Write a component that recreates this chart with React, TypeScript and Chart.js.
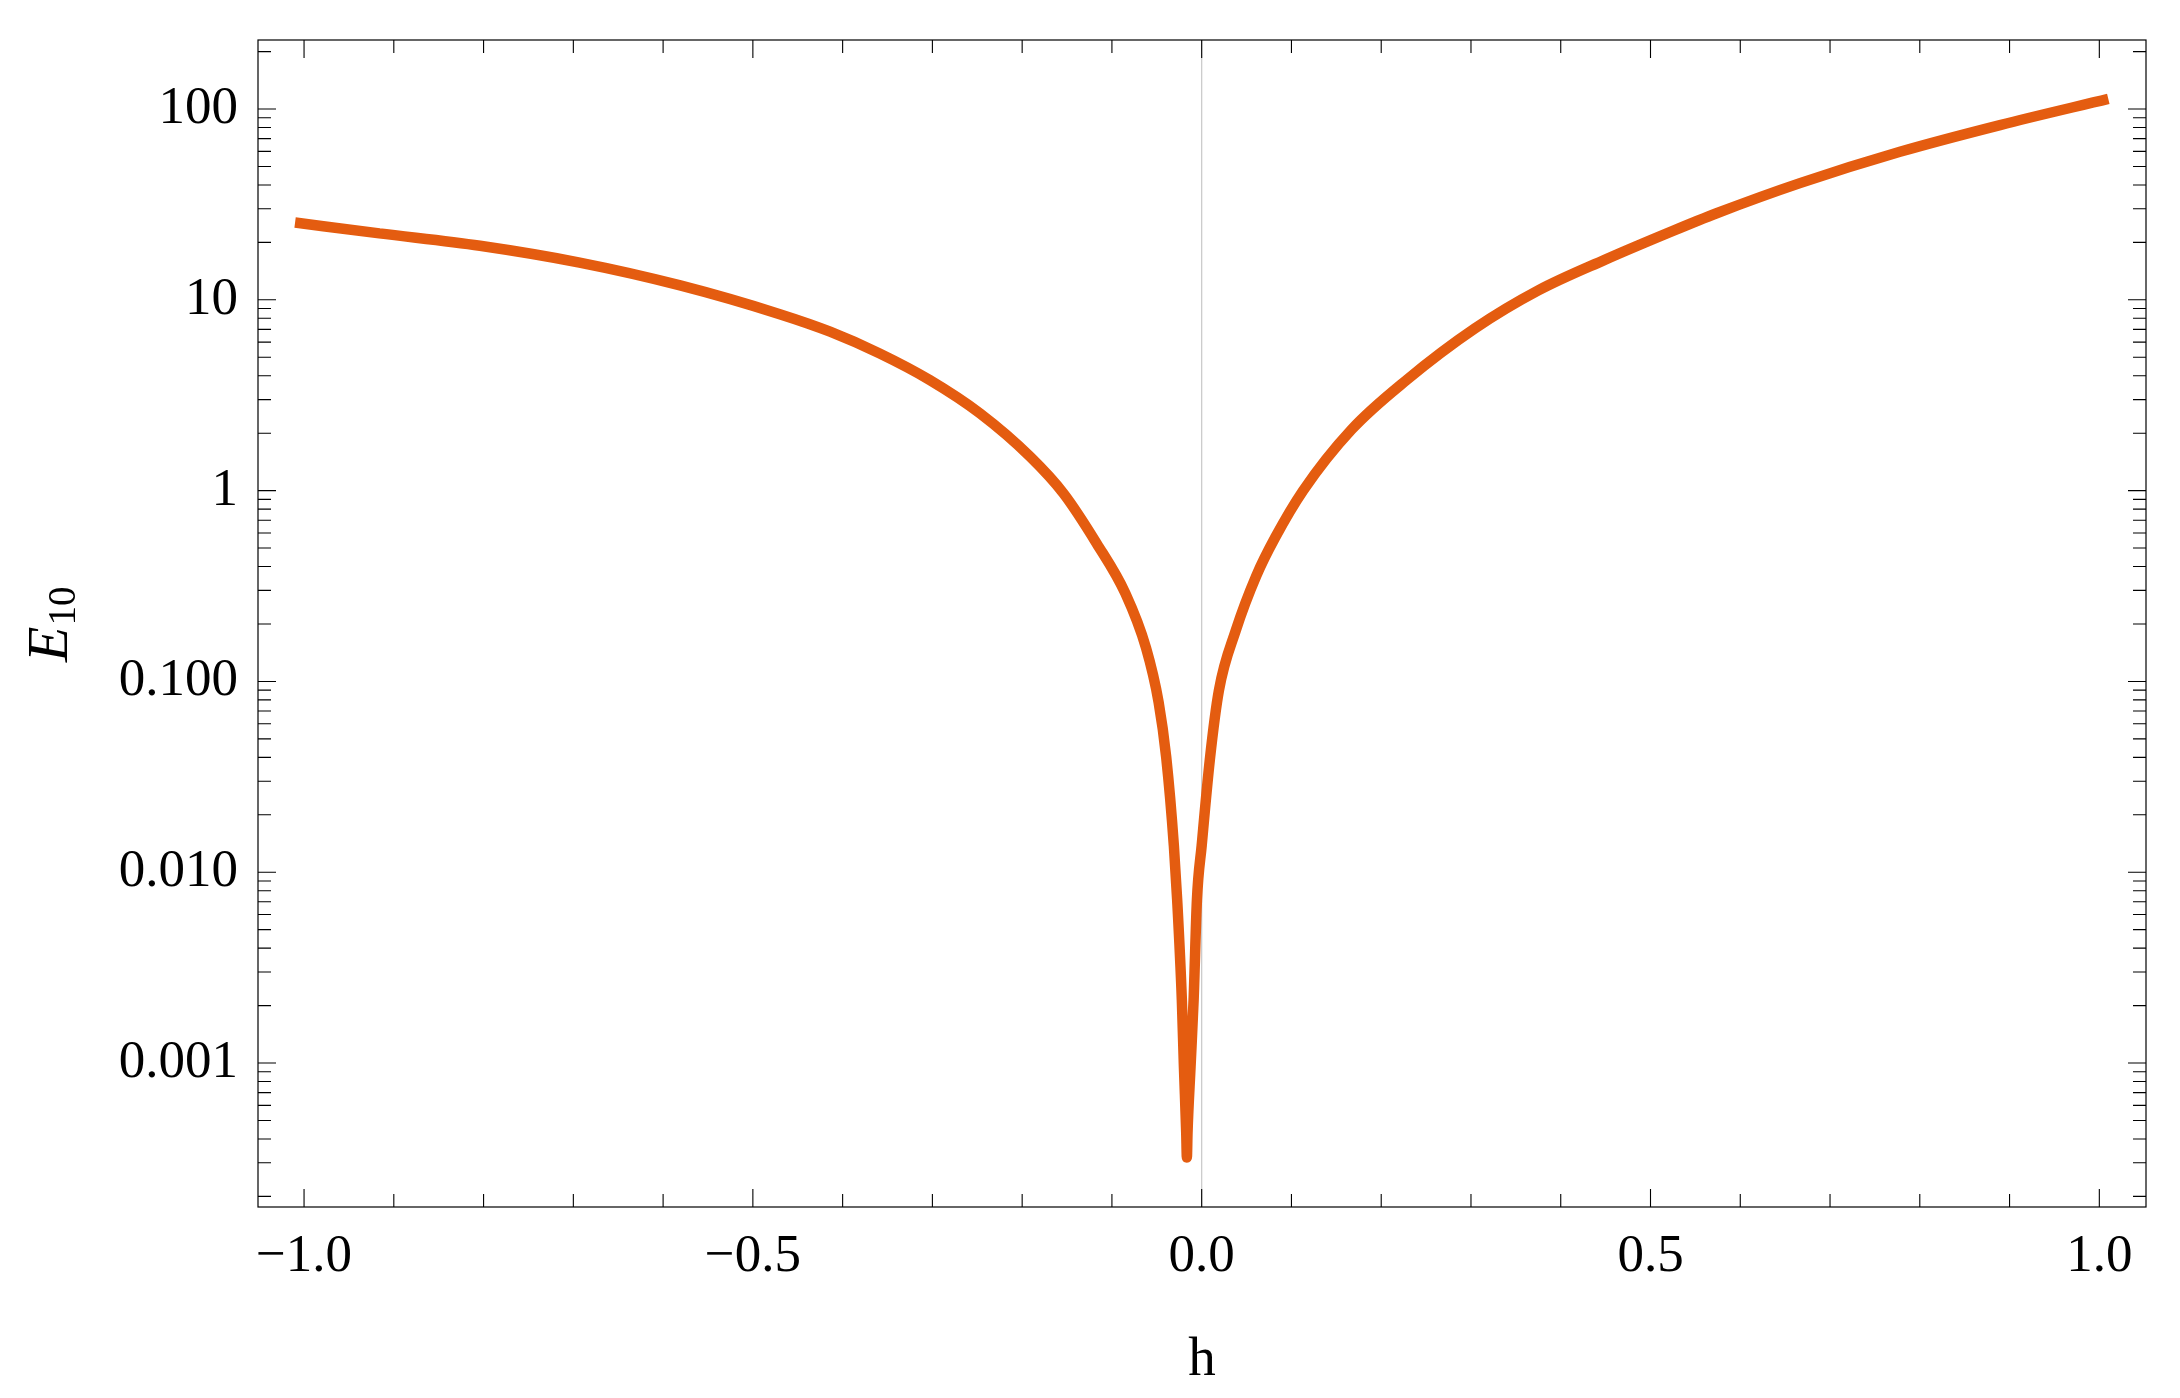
import React, { useEffect, useRef } from "react";
import { Chart, registerables } from "chart.js";

Chart.register(...registerables);

// ---- data ----
const hValues = [
  -1.01, -0.916, -0.804, -0.693, -0.581, -0.47, -0.414, -0.359, -0.303,
  -0.247, -0.191, -0.154, -0.117, -0.085, -0.062, -0.048, -0.0395, -0.031,
  -0.0273, -0.0221, -0.0198, -0.0172, -0.0165, -0.0158, -0.0124, -0.009, -0.0053,
  0.0, 0.0091, 0.0192, 0.038, 0.061, 0.082, 0.113, 0.167, 0.2283, 0.3044, 0.375,
  0.449, 0.525, 0.5737, 0.6665, 0.7779, 0.8894, 1.01,
];
const eValues = [
  25.4, 22.3, 19.2, 15.67, 11.9, 8.41, 6.81, 5.24, 3.8,
  2.54, 1.505, 0.968, 0.529, 0.2895, 0.15, 0.078, 0.04, 0.0138,
  0.00715, 0.00214, 0.00096, 0.00043, 0.00032, 0.00043, 0.00096, 0.00214, 0.00715,
  0.0138, 0.039, 0.0897, 0.185, 0.359, 0.569, 1.0, 2.09, 3.8, 7.08, 11.2,
  16.2, 22.98, 28.43, 40.9, 59.7, 82.4, 113,
];

const xTickValues = [-1, -0.5, 0, 0.5, 1];
const xTickLabels = ["\u22121.0", "\u22120.5", "0.0", "0.5", "1.0"];
const xMinorTicks = [
  -0.9, -0.8, -0.7, -0.6, -0.4, -0.3, -0.2, -0.1,
  0.1, 0.2, 0.3, 0.4, 0.6, 0.7, 0.8, 0.9,
];
const yTickValues = [0.001, 0.01, 0.1, 1, 10, 100];
const yTickLabels = ["0.001", "0.010", "0.100", "1", "10", "100"];
const yMinorMultipliers = [2, 3, 4, 5, 6, 7, 8, 9];
const yMinorDecades = [0.0001, 0.001, 0.01, 0.1, 1, 10, 100];

const X_MIN = -1.0513;
const X_MAX = 1.052;
const Y_MIN = 1.76e-4;
const Y_MAX = 230;

const LINE_COLOR = "rgb(228, 92, 16)";
const FONT = '"Liberation Serif", "Times New Roman", serif';

const framePlugin = {
  id: "mmaFrame",
  beforeDatasetsDraw(chart: any) {
    const { ctx, chartArea: a, scales } = chart;
    const x = scales.x;
    ctx.save();
    ctx.strokeStyle = "#c8c8c8";
    ctx.lineWidth = 1.2;
    const px = x.getPixelForValue(0);
    ctx.beginPath();
    ctx.moveTo(px, a.top);
    ctx.lineTo(px, a.bottom);
    ctx.stroke();
    ctx.restore();
  },
  afterDatasetsDraw(chart: any) {
    const { ctx, chartArea: a, scales } = chart;
    const x = scales.x;
    const y = scales.y;
    ctx.save();
    ctx.strokeStyle = "#000";
    ctx.lineWidth = 1.2;
    ctx.strokeRect(a.left, a.top, a.right - a.left, a.bottom - a.top);

    const MAJ = 18;
    const MIN = 13;
    ctx.lineWidth = 1.1;
    ctx.beginPath();
    const xTick = (v: number, len: number) => {
      const p = x.getPixelForValue(v);
      ctx.moveTo(p, a.bottom);
      ctx.lineTo(p, a.bottom - len);
      ctx.moveTo(p, a.top);
      ctx.lineTo(p, a.top + len);
    };
    xTickValues.forEach((v) => xTick(v, MAJ));
    xMinorTicks.forEach((v) => xTick(v, MIN));

    const yTick = (v: number, len: number) => {
      if (v < Y_MIN || v > Y_MAX) return;
      const p = y.getPixelForValue(v);
      ctx.moveTo(a.left, p);
      ctx.lineTo(a.left + len, p);
      ctx.moveTo(a.right, p);
      ctx.lineTo(a.right - len, p);
    };
    yTickValues.forEach((v) => yTick(v, MAJ));
    yMinorDecades.forEach((d) =>
      yMinorMultipliers.forEach((m) => yTick(m * d, MIN))
    );
    ctx.stroke();
    ctx.restore();
  },
  afterDraw(chart: any) {
    const { ctx, chartArea: a } = chart;
    ctx.save();
    ctx.fillStyle = "#000";
    // x-axis title
    ctx.font = `55px ${FONT}`;
    ctx.textAlign = "center";
    ctx.textBaseline = "alphabetic";
    ctx.fillText("h", (a.left + a.right) / 2, 1375);

    // y-axis title: italic E with upright subscript 10
    ctx.translate(67, 662);
    ctx.rotate(-Math.PI / 2);
    ctx.textAlign = "left";
    ctx.font = `italic 58px ${FONT}`;
    ctx.fillText("E", 0, 0);
    const w = ctx.measureText("E").width;
    ctx.font = `39px ${FONT}`;
    ctx.fillText("10", w + 1, 8);
    ctx.restore();
  },
};

export default function App() {
  const canvasRef = useRef<HTMLCanvasElement | null>(null);

  useEffect(() => {
    document.body.style.margin = "0";
    const canvas = canvasRef.current;
    if (!canvas) return;
    const points = hValues.map((h, i) => ({ x: h, y: eValues[i] }));

    const chart = new Chart(canvas, {
      type: "line",
      data: {
        datasets: [
          {
            data: points,
            borderColor: LINE_COLOR,
            borderWidth: 10.5,
            pointRadius: 0,
            cubicInterpolationMode: "monotone",
            fill: false,
            borderCapStyle: "butt",
            borderJoinStyle: "bevel",
          },
        ],
      },
      plugins: [framePlugin],
      options: {
        responsive: false,
        animation: false,
        devicePixelRatio: 1,
        layout: { padding: { left: 0, top: 40, right: 34, bottom: 0 } },
        plugins: {
          legend: { display: false },
          tooltip: { enabled: false },
        },
        scales: {
          x: {
            type: "linear",
            position: "bottom",
            min: X_MIN,
            max: X_MAX,
            grid: { display: false, drawTicks: false },
            border: { display: false },
            afterFit: (scale: any) => {
              scale.height = 191;
              scale.paddingLeft = 0;
              scale.paddingRight = 0;
            },
            afterBuildTicks: (scale: any) => {
              scale.ticks = xTickValues.map((v) => ({ value: v }));
            },
            ticks: {
              autoSkip: false,
              maxRotation: 0,
              padding: 18,
              color: "#000",
              font: { family: FONT, size: 53 },
              callback: (value: any) => {
                const i = xTickValues.indexOf(Number(value));
                return i >= 0 ? xTickLabels[i] : "";
              },
            },
          },
          y: {
            type: "logarithmic",
            position: "left",
            min: Y_MIN,
            max: Y_MAX,
            grid: { display: false, drawTicks: false },
            border: { display: false },
            afterFit: (scale: any) => {
              scale.width = 258;
              scale.paddingTop = 0;
              scale.paddingBottom = 0;
            },
            afterBuildTicks: (scale: any) => {
              scale.ticks = yTickValues.map((v) => ({ value: v }));
            },
            ticks: {
              autoSkip: false,
              padding: 20,
              color: "#000",
              font: { family: FONT, size: 53 },
              callback: (value: any) => {
                const i = yTickValues.indexOf(Number(value));
                return i >= 0 ? yTickLabels[i] : "";
              },
            },
          },
        },
      },
    } as any);

    return () => {
      chart.destroy();
    };
  }, []);

  return (
    <div style={{ width: 2180, height: 1398, background: "#fff" }}>
      <canvas ref={canvasRef} width={2180} height={1398} style={{ display: "block" }} />
    </div>
  );
}
